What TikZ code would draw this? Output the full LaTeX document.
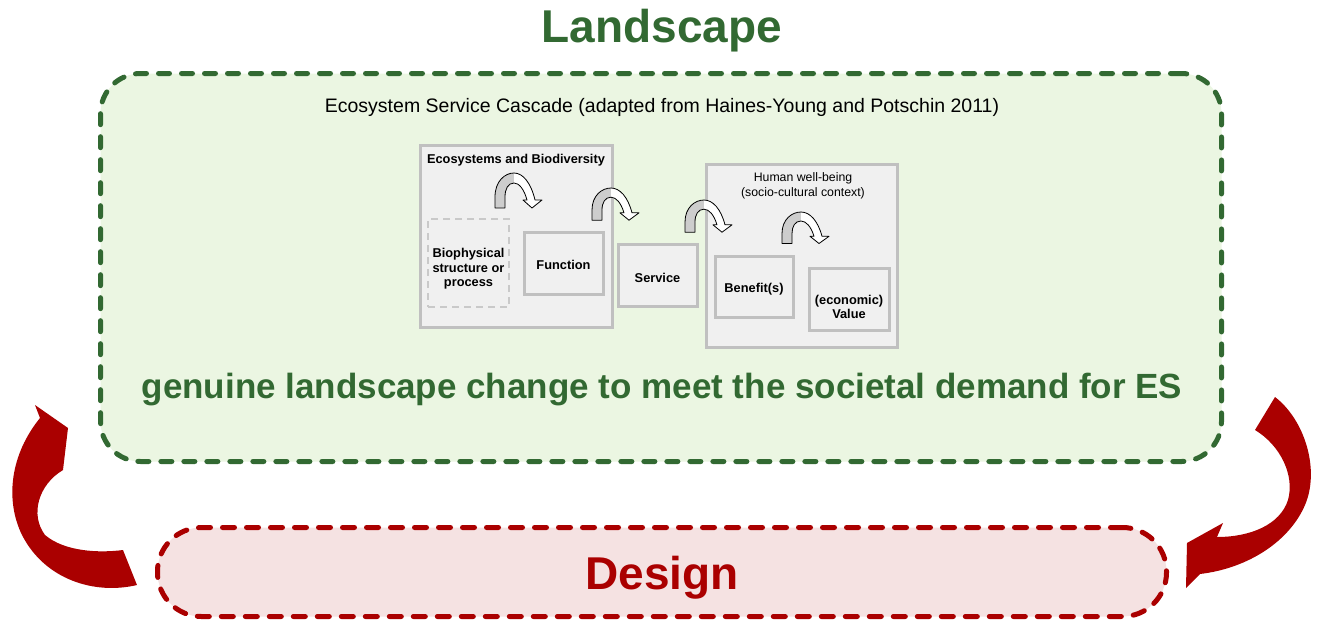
\documentclass[tikz,border=0pt]{standalone}
\usepackage{fontspec}
\setmainfont{Liberation Sans}
\definecolor{lgreen}{RGB}{50,105,50}
\definecolor{lgfill}{RGB}{235,246,226}
\definecolor{dred}{RGB}{170,0,0}
\definecolor{pfill}{RGB}{245,226,226}
\definecolor{bxline}{RGB}{192,192,192}
\definecolor{bxfill}{RGB}{240,240,240}
\definecolor{archgray}{RGB}{205,205,205}
\tikzset{
  graybox/.style={draw=bxline, fill=bxfill, line width=3, inner sep=0},
  smalltxt/.style={font=\bfseries\fontsize{12.8}{14.5}\selectfont, align=center, inner sep=0},
  archarrow/.pic={
    \begin{scope}
      \clip (2,35) -- (2,24) .. controls (2,8) and (12,0) .. (21,0) .. controls (30,0) and (38,10) .. (42,27) -- (49,27) -- (39,35) -- (30,27) -- (34,27) .. controls (31,16) and (26,10) .. (21,10) .. controls (15,10) and (12,16) .. (12,24) -- (12,35) -- cycle;
      \fill[white] (0,-1) rectangle (50,36);
      \fill[archgray] (0,-1) rectangle (21,36);
    \end{scope}
    \draw[black, line width=0.8, line join=round] (2,35) -- (2,24) .. controls (2,8) and (12,0) .. (21,0) .. controls (30,0) and (38,10) .. (42,27) -- (49,27) -- (39,35) -- (30,27) -- (34,27) .. controls (31,16) and (26,10) .. (21,10) .. controls (15,10) and (12,16) .. (12,24) -- (12,35) -- cycle;
  }
}
\begin{document}
\begin{tikzpicture}[x=1pt,y=-1pt]
\useasboundingbox (0,0) rectangle (1323,622);

% title
\node[font=\bfseries\fontsize{46}{50}\selectfont, text=lgreen] (title) at (662,31) {Landscape};

% landscape box
\node[draw=lgreen, fill=lgfill, line width=5, dash pattern=on 11 off 12, line cap=round,
      rounded corners=40, minimum width=1121, minimum height=388, inner sep=0] (land) at (661,267.5) {};

\node[font=\fontsize{19.5}{22}\selectfont, inner sep=0] (cascade) at (662,107)
  {Ecosystem Service Cascade (adapted from Haines-Young and Potschin 2011)};

% ecosystem box
\node[graybox, minimum width=192, minimum height=182] (eco) at (516,236) {};
\node[smalltxt] (ecotxt) at (516,160) {Ecosystems and Biodiversity};
\node[draw=bxline!85, fill=bxfill, line width=2.5, dash pattern=on 7 off 5, minimum width=81, minimum height=88, inner sep=0] (bio) at (468.5,263) {};
\node[smalltxt] (biotxt) at (468.5,269) {Biophysical\\structure or\\process};
\node[graybox, minimum width=79, minimum height=62] (func) at (563.5,263) {};
\node[smalltxt] (functxt) at (563.5,265) {Function};

% service
\node[graybox, minimum width=79, minimum height=62] (serv) at (657.5,275) {};
\node[smalltxt] (servtxt) at (657.5,278) {Service};

% human well-being
\node[graybox, minimum width=191, minimum height=183] (hwb) at (801.5,255.5) {};
\node[font=\fontsize{12.3}{15}\selectfont, align=center, inner sep=0] (hwbtxt) at (803,185.5) {Human well-being\\(socio-cultural context)};
\node[graybox, minimum width=78, minimum height=61] (ben) at (754,286.5) {};
\node[smalltxt] (bentxt) at (754,289) {Benefit(s)};
\node[graybox, minimum width=80, minimum height=62] (val) at (849,299) {};
\node[smalltxt] (valtxt) at (849,307) {(economic)\\Value};

% arch arrows
\pic at (493,173) {archarrow};
\pic[yscale=0.92] at (590,188) {archarrow};
\pic[yscale=0.92] at (683,200) {archarrow};
\pic[yscale=0.9] at (780,212) {archarrow};

\node[font=\bfseries\fontsize{35}{40}\selectfont, text=lgreen, inner sep=0] (genuine) at (662,390)
  {genuine landscape change to meet the societal demand for ES};

% design pill
\node[draw=dred, fill=pfill, line width=5, dash pattern=on 12 off 12, line cap=round,
      rounded corners=44, minimum width=1009, minimum height=89, inner sep=0] (design) at (662,572) {};
\node[font=\bfseries\fontsize{46}{50}\selectfont, text=dred, inner sep=0] (designtxt) at (662,578) {Design};

% red curved arrows
\fill[dred] (35,405) -- (68,428) -- (63,470) .. controls (38,485) and (30,515) .. (45,535)
  .. controls (65,552) and (100,553) .. (123,550) -- (137,585)
  .. controls (95,595) and (45,580) .. (22,535) .. controls (5,500) and (10,455) .. (40,418) -- cycle;
\fill[dred] (1275,397) .. controls (1305,420) and (1320,470) .. (1305,505)
  .. controls (1290,540) and (1250,568) .. (1200,574) -- (1186,588) -- (1187,543) -- (1223,523) -- (1217,537)
  .. controls (1250,537) and (1280,525) .. (1288,500) .. controls (1295,475) and (1280,445) .. (1255,430) -- cycle;
\end{tikzpicture}
\end{document}
